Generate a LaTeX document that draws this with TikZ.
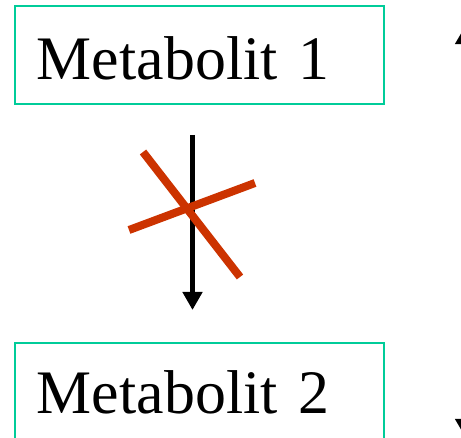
\documentclass[tikz,border=0pt]{standalone}
\usepackage{fontspec}
\setmainfont{Liberation Serif}
\usetikzlibrary{arrows.meta}
\definecolor{boxgreen}{RGB}{0,204,153}
\definecolor{stopred}{RGB}{204,51,0}

\begin{document}
\begin{tikzpicture}[x=0.025cm, y=-0.025cm,
    metabox/.style={draw=boxgreen, line width=1.4pt, anchor=north west,
        minimum height=2.45cm, text width=8.125cm, align=left,
        inner xsep=0.55cm, inner ysep=0pt,
        font=\fontsize{44}{52}\selectfont}]
    \useasboundingbox (0,0) rectangle (461,438);
    \clip (0,0) rectangle (461,438);

    % Metabolites
    \node[metabox, text height=1.25cm] (met1) at (14,5) {Metabolit 1};
    \node[metabox] (met2) at (14,342) {Metabolit 2};

    % Blocked reaction
    \coordinate (from) at (192.5,135);
    \coordinate (to) at (192.5,310);
    \draw[line width=3.5pt, -{Triangle[width=13.5pt,length=12.8pt]}] (from) -- (to);

    % Cross
    \coordinate (c1) at (143,152);
    \coordinate (c2) at (240,277);
    \coordinate (c3) at (129,230);
    \coordinate (c4) at (255,183);
    \draw[stopred, line width=5.7pt] (c1) -- (c2);
    \draw[stopred, line width=5.7pt] (c3) -- (c4);

    % Side arrow, cut off at the edge
    \coordinate (up) at (463,30);
    \coordinate (down) at (463,433);
    \draw[line width=2pt, {Triangle[width=11pt,length=10pt]}-{Triangle[width=11pt,length=10pt]}] (up) -- (down);
\end{tikzpicture}
\end{document}
